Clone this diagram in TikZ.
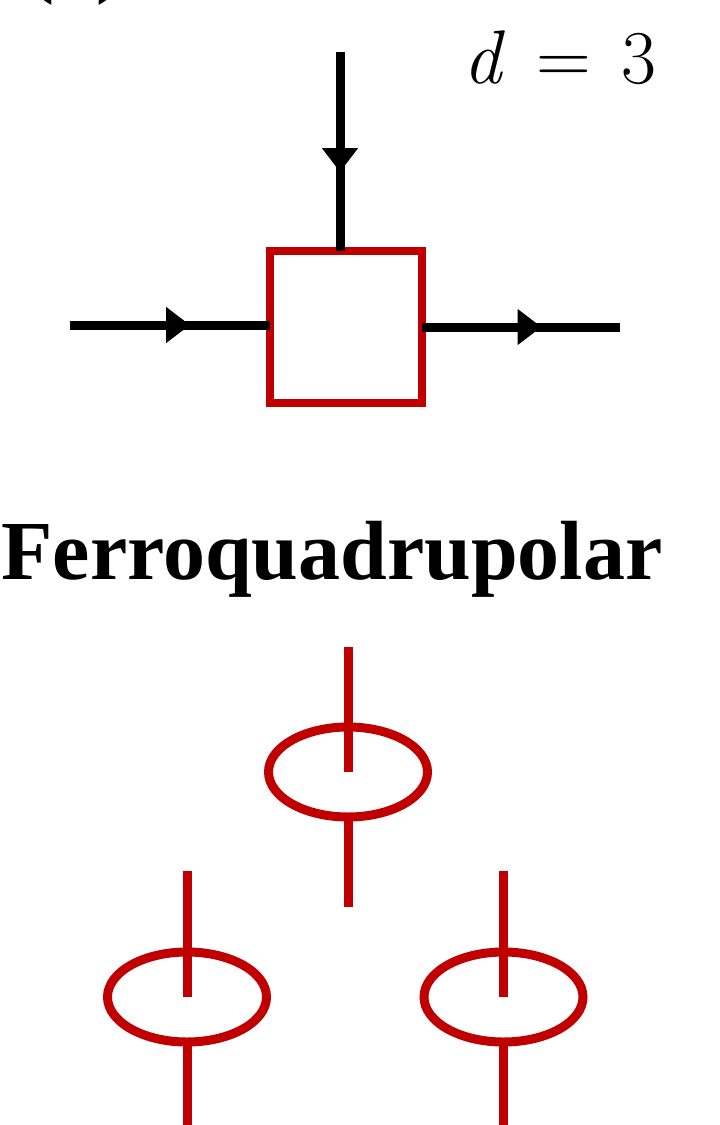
\documentclass[tikz,border=0pt]{standalone}
\usepackage{fontspec}
\setmainfont{Liberation Serif}
\newfontfamily\lmfont{Latin Modern Roman}
\usetikzlibrary{arrows.meta,decorations.markings,shapes.geometric}
\definecolor{dred}{HTML}{C00000}
\begin{document}
\begin{tikzpicture}[x=0.75pt,y=-0.75pt,
  wire/.style={line width=6.75pt, draw=black},
  midarrow/.style={postaction={decorate},decoration={markings,mark=at position 90pt with {\arrow{Triangle[length=18pt,width=26pt]}}}},
  tensor/.style={draw=dred, line width=6pt, minimum size=114pt, inner sep=0pt, outer sep=0pt},
  loopnode/.style={ellipse, draw=dred, line width=6.75pt, minimum width=119.25pt, minimum height=67.5pt, inner sep=0pt, outer sep=0pt},
  leg/.style={draw=dred, line width=6.75pt},
  bigtext/.style={font=\bfseries\fontsize{63}{63}\selectfont}]
\useasboundingbox (0,0) rectangle (720,1125);
% label (cut off at top)
\node[bigtext, anchor=base west, inner sep=0pt] (lbl) at (26,-13) {(a)};
\node[anchor=base, inner sep=0pt, font=\lmfont\fontsize{57}{57}\selectfont] (dlab) at (560,83) {\textit{d}\hspace{0.4em}=\hspace{0.4em}3};
% tensor
\node[tensor] (box) at (345.5,327) {};
\coordinate (top) at (340,52);
\coordinate (lin) at (70,325);
\coordinate (rout) at (620,327);
\draw[wire, midarrow] (top) -- (top |- box.north);
\draw[wire, midarrow] (lin) -- (lin -| box.west);
\draw[wire, midarrow] (box.east |- rout) -- (rout);
% title
\node[bigtext, anchor=base, inner sep=0pt] (title) at (332,579) {Ferroquadrupolar};
% loops
\node[loopnode] (e1) at (348,772) {};
\node[loopnode] (e2) at (187,997) {};
\node[loopnode] (e3) at (503.5,997) {};
\coordinate (e1t) at (348,647);
\coordinate (e1b) at (348,907);
\coordinate (e2t) at (187,871);
\coordinate (e2b) at (187,1135);
\coordinate (e3t) at (503.5,871);
\coordinate (e3b) at (503.5,1135);
\draw[leg] (e1t) -- (e1.center);
\draw[leg] (e1.south) -- (e1b);
\draw[leg] (e2t) -- (e2.center);
\draw[leg] (e2.south) -- (e2b);
\draw[leg] (e3t) -- (e3.center);
\draw[leg] (e3.south) -- (e3b);
\end{tikzpicture}
\end{document}
